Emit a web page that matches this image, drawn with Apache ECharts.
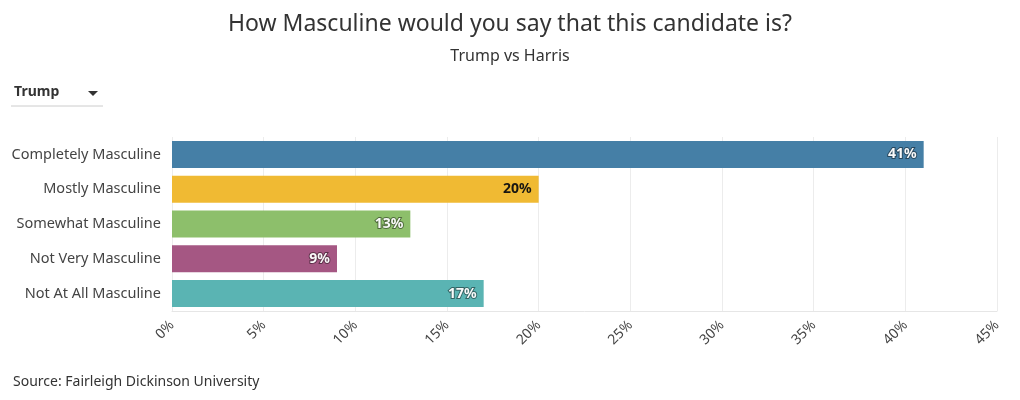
<!DOCTYPE html>
<html><head><meta charset="utf-8">
<script src="https://cdn.jsdelivr.net/npm/echarts@6/dist/echarts.min.js"></script>
<style>html,body{margin:0;padding:0;background:#fff}#c{width:1020px;height:400px}</style>
</head><body><div id="c"></div>
<script>
const categories = ["Completely Masculine","Mostly Masculine","Somewhat Masculine","Not Very Masculine","Not At All Masculine"];
const values = [41, 20, 13, 9, 17];
const colors = ["#3f7ba3","#efb82c","#89bd66","#a2527f","#55b2b1"];
const labelColors = ["#fff","#111","#fff","#fff","#fff"];
const xTicks = [0,5,10,15,20,25,30,35,40,45];
const FONT = '"Noto Sans","Open Sans",sans-serif';

const chart = echarts.init(document.getElementById('c'));
chart.setOption({
  animation:false,
  title:[
    {text:"How Masculine would you say that this candidate is?",left:'center',top:8,textStyle:{fontFamily:FONT,fontSize:23,fontWeight:'normal',color:'#333'}},
    {text:"Trump vs Harris",left:'center',top:43,textStyle:{fontFamily:FONT,fontSize:16,fontWeight:'normal',color:'#333'}},
    {text:"Source: Fairleigh Dickinson University",left:8,top:370,textStyle:{fontFamily:FONT,fontSize:14,fontWeight:'normal',color:'#333'}}
  ],
  graphic:[
    {type:'text',left:14,top:85,style:{text:'Trump',font:'bold 14px '+FONT,fill:'#333'}},
    {type:'polygon',shape:{points:[[88,91],[98,91],[93,96]]},style:{fill:'#333'}},
    {type:'line',shape:{x1:11,y1:106,x2:103,y2:106},style:{stroke:'#ccc',lineWidth:1}}
  ],
  grid:{left:172,right:23,top:137,bottom:89,containLabel:false},
  xAxis:{type:'value',min:0,max:45,interval:5,
    axisLine:{show:true,lineStyle:{color:'#e6e6e6'}},axisTick:{show:false},
    splitLine:{show:true,lineStyle:{color:'#ececec'}},
    axisLabel:{rotate:45,margin:12,color:'#444',fontFamily:FONT,fontSize:14,
      formatter:v=>xTicks.includes(v)?v+'%':''}},
  yAxis:{type:'category',data:categories,inverse:true,
    axisLine:{show:false},axisTick:{show:false},
    axisLabel:{color:'#444',fontFamily:FONT,fontSize:14.5,margin:11}},
  series:[{type:'bar',barWidth:27,
    data:values.map((v,i)=>({value:v,itemStyle:{color:colors[i],opacity:0.97},
      label:{color:labelColors[i],textBorderColor:i===1?'transparent':'rgba(0,0,0,0.45)',textBorderWidth:i===1?0:2}})),
    label:{show:true,position:'insideRight',offset:[-2,0],formatter:'{c}%',fontFamily:FONT,fontSize:14,fontWeight:'bold'}
  }]
});
</script></body></html>
